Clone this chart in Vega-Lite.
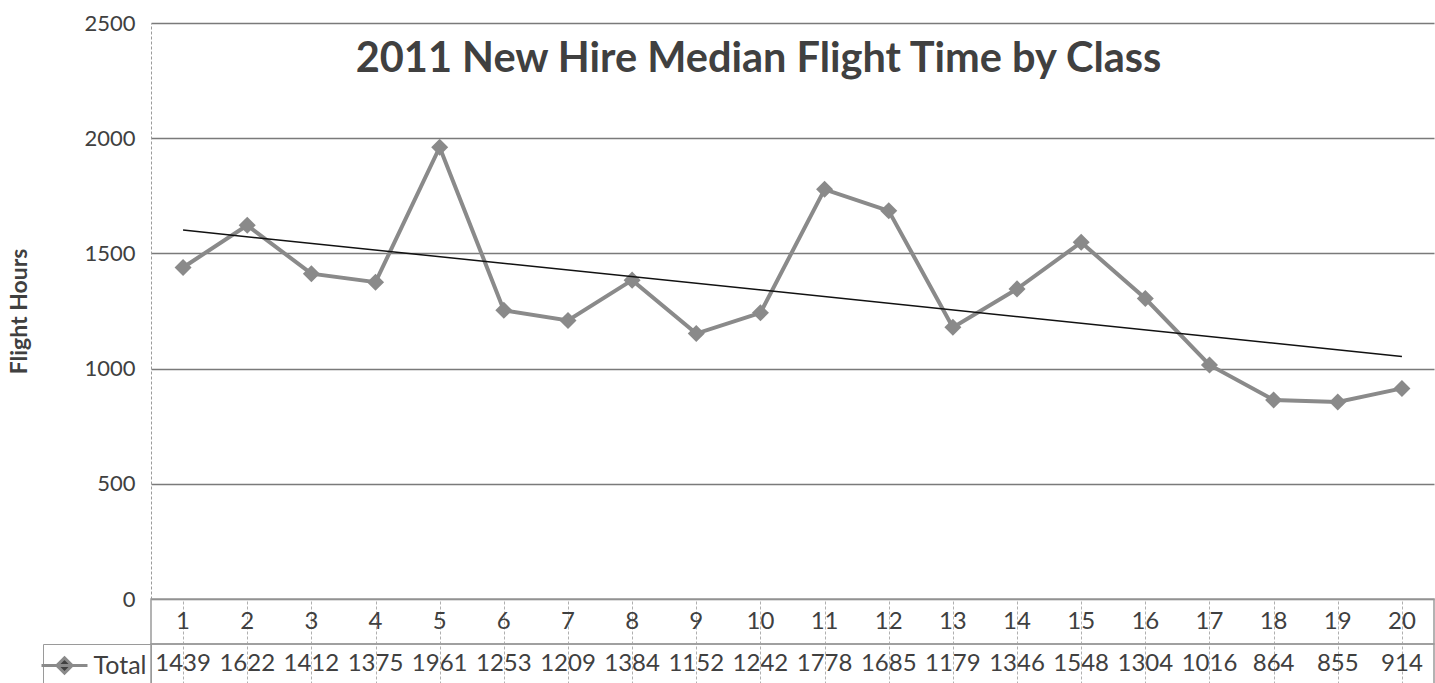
{
  "$schema": "https://vega.github.io/schema/vega-lite/v6.json",
  "padding": {"left": 8, "top": 12, "right": 0, "bottom": 0},
  "background": "white",
  "bounds": "flush",
  "config": {
    "view": {"stroke": null},
    "font": "Lato",
    "concat": {"spacing": 0}
  },
  "resolve": {"scale": {"color": "independent"}, "legend": {"color": "independent"}},
  "datasets": {
    "flight": [
      {"cls": 1, "hours": 1439}, {"cls": 2, "hours": 1622}, {"cls": 3, "hours": 1412}, {"cls": 4, "hours": 1375},
      {"cls": 5, "hours": 1961}, {"cls": 6, "hours": 1253}, {"cls": 7, "hours": 1209}, {"cls": 8, "hours": 1384},
      {"cls": 9, "hours": 1152}, {"cls": 10, "hours": 1242}, {"cls": 11, "hours": 1778}, {"cls": 12, "hours": 1685},
      {"cls": 13, "hours": 1179}, {"cls": 14, "hours": 1346}, {"cls": 15, "hours": 1548}, {"cls": 16, "hours": 1304},
      {"cls": 17, "hours": 1016}, {"cls": 18, "hours": 864}, {"cls": 19, "hours": 855}, {"cls": 20, "hours": 914}
    ]
  },
  "vconcat": [
    {
      "width": 1283,
      "height": 576,
      "data": {"name": "flight"},
      "title": {
        "text": "2011 New Hire Median Flight Time by Class",
        "fontSize": 41.5,
        "fontWeight": "bold",
        "color": "#404040",
        "anchor": "middle",
        "offset": -68,
        "dx": -34
      },
      "layer": [
        {
          "mark": {
            "type": "line",
            "color": "#8a8a8a",
            "strokeWidth": 4,
            "point": {"shape": "diamond", "size": 290, "filled": true, "color": "#8a8a8a"}
          },
          "encoding": {
            "x": {"field": "cls", "type": "quantitative", "scale": {"domain": [0.5, 20.5], "nice": false, "zero": false}, "axis": null},
            "y": {
              "field": "hours",
              "type": "quantitative",
              "scale": {"domain": [0, 2500], "nice": false},
              "axis": {
                "title": "Flight Hours",
                "titleFontSize": 23,
                "titleFontWeight": "bold",
                "titleColor": "#404040",
                "titlePadding": 52,
                "format": "d",
                "values": [0, 500, 1000, 1500, 2000, 2500],
                "labelFontSize": 22,
                "labelColor": "#404040",
                "labelPadding": 16,
                "ticks": false,
                "grid": true,
                "gridColor": "#7a7a7a",
                "gridWidth": 1.5,
                "domainColor": "#9a9a9a",
                "domainDash": [3, 2]
              }
            }
          }
        },
        {
          "transform": [{"regression": "hours", "on": "cls"}],
          "mark": {"type": "line", "color": "#111111", "strokeWidth": 1.5},
          "encoding": {
            "x": {"field": "cls", "type": "quantitative"},
            "y": {"field": "hours", "type": "quantitative"}
          }
        }
      ]
    },
    {
      "width": 1283,
      "height": 45,
      "data": {"name": "flight"},
      "view": {"stroke": "#9a9a9a", "strokeWidth": 1.5},
      "mark": {"type": "text", "fontSize": 24, "color": "#404040"},
      "encoding": {
        "x": {
          "field": "cls",
          "type": "ordinal",
          "scale": {"paddingInner": 0, "paddingOuter": 0},
          "axis": {"labels": false, "ticks": false, "domain": false, "title": null, "grid": true, "bandPosition": 0, "gridColor": "#b0b0b0", "gridDash": [3, 2]}
        },
        "text": {"field": "cls"}
      }
    },
    {
      "width": 1283,
      "height": 40,
      "data": {"name": "flight"},
      "view": {"stroke": "#9a9a9a", "strokeWidth": 1.5},
      "mark": {"type": "text", "fontSize": 24},
      "encoding": {
        "x": {
          "field": "cls",
          "type": "ordinal",
          "scale": {"paddingInner": 0, "paddingOuter": 0},
          "axis": {"labels": false, "ticks": false, "domain": false, "title": null, "grid": true, "bandPosition": 0, "gridColor": "#b0b0b0", "gridDash": [3, 2]}
        },
        "text": {"field": "hours"},
        "color": {
          "datum": "Total",
          "type": "nominal",
          "scale": {"range": ["#404040"]},
          "legend": {
            "orient": "left",
            "title": null,
            "offset": 0,
            "padding": 4.5,
            "strokeColor": "#9a9a9a",
            "symbolType": "M-1.5,0H1.5M0,-0.5L0.5,0L0,0.5L-0.5,0Z",
            "symbolSize": 940,
            "symbolFillColor": "#8a8a8a",
            "symbolStrokeColor": "#8a8a8a",
            "symbolStrokeWidth": 3,
            "labelFontSize": 25,
            "labelColor": "#404040",
            "labelOffset": 12
          }
        }
      }
    }
  ]
}
